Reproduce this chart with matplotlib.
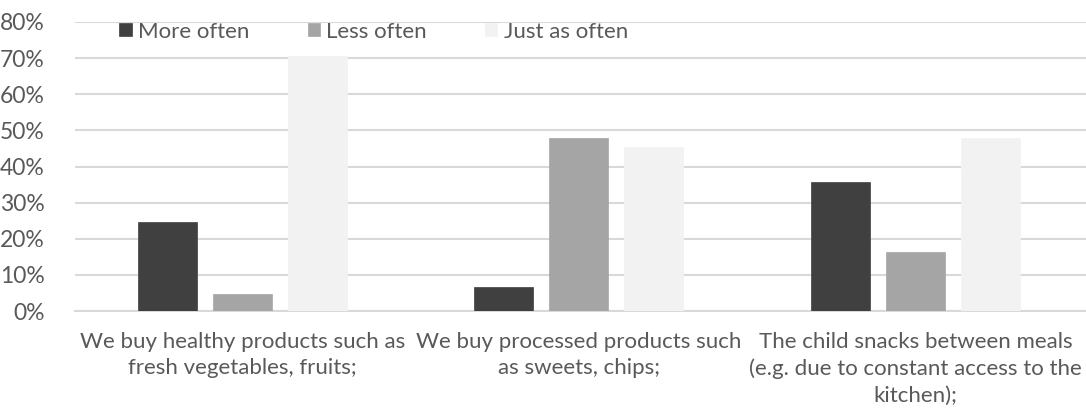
import matplotlib
matplotlib.use("Agg")
import matplotlib.pyplot as plt
import numpy as np
from matplotlib.ticker import PercentFormatter

plt.rcParams['font.family'] = ['Lato', 'DejaVu Sans']

categories = ["We buy healthy products such as\nfresh vegetables, fruits;",
              "We buy processed products such\nas sweets, chips;",
              "The child snacks between meals\n(e.g. due to constant access to the\nkitchen);"]
series_names = ["More often", "Less often", "Just as often"]
more_often = [24.5, 6.7, 35.7]
less_often = [4.7, 48.0, 16.2]
just_as_often = [70.7, 45.3, 48.0]
colors = ["#404040", "#a5a5a5", "#f2f2f2"]

fig = plt.figure(figsize=(10.86, 4.13), dpi=100)
ax = fig.add_axes([75/1086, 1-311/413, 1-75/1086, (311-22)/413])

x = np.arange(len(categories))
w = 0.175
step = 0.223
for i, (vals, name, c) in enumerate(zip([more_often, less_often, just_as_often], series_names, colors)):
    ax.bar(x + (i-1)*step, vals, width=w, color=c, label=name, zorder=3,
           edgecolor=c, linewidth=0.5)

ax.set_ylim(0, 80)
ax.set_xlim(-0.497, 2.507)
ax.set_yticks(np.arange(0, 81, 10))
ax.yaxis.set_major_formatter(PercentFormatter(decimals=0))
ax.grid(axis='y', color='#d9d9d9', linewidth=1.5, zorder=0)
for s in ['top', 'right', 'left']:
    ax.spines[s].set_visible(False)
ax.spines['bottom'].set_color('#d9d9d9')
ax.spines['bottom'].set_linewidth(1.5)
ax.tick_params(axis='y', length=0, labelsize=16.5, labelcolor='#595959', pad=22)
ax.tick_params(axis='x', length=0, labelsize=16, labelcolor='#595959', pad=15)
ax.set_xticks(x)
ax.set_xticklabels(categories, linespacing=1.4)

leg = ax.legend(loc='center left', bbox_to_anchor=(0.044, 0.967), ncol=3, frameon=False,
                fontsize=16, handlelength=0.55, handleheight=0.55, handletextpad=0.3,
                columnspacing=2.6, labelcolor='#595959', borderaxespad=0, borderpad=0)

fig.savefig("out.png", dpi=100)
